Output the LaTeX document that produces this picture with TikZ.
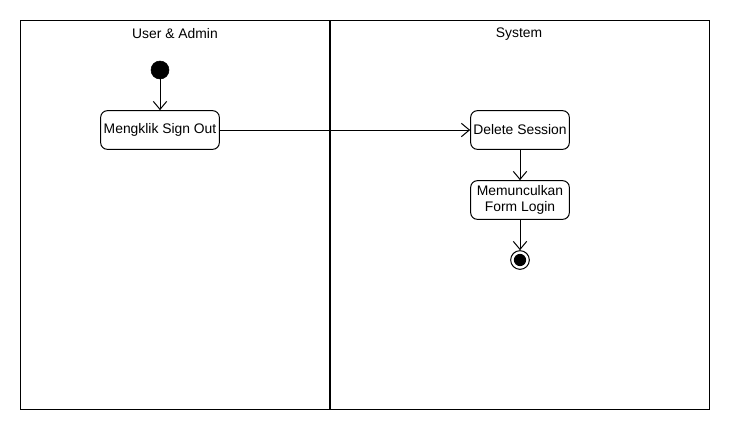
\documentclass[tikz,border=0pt]{standalone}
\usepackage{fontspec}
\setmainfont{Liberation Sans}
\usetikzlibrary{arrows.meta}

\tikzset{
  action/.style={draw,rounded corners=5pt,line width=0.75pt,minimum width=74pt,minimum height=29pt,inner sep=1pt,align=center,font=\fontsize{10.4}{12}\selectfont},
  flow/.style={draw,line width=0.75pt,-{Straight Barb[length=6pt,width=10pt,line width=0.75pt]}},
  lanetitle/.style={font=\fontsize{10.4}{12}\selectfont}
}

\begin{document}
\begin{tikzpicture}[x=0.75pt,y=-0.75pt]

\useasboundingbox (0,0) rectangle (730,430);

% swimlanes
\draw[black,line width=0.65pt] (20,20) rectangle (709,409);
\draw[black,line width=1.5pt] (330,20)--(330,409);
\node[lanetitle] (laneA) at (175,34) {User \& Admin};
\node[lanetitle] (laneB) at (519,34) {System};

% nodes
\node[circle,fill=black,draw,minimum size=13.5pt,inner sep=0pt] (start) at (160,70) {};
\node[action,minimum width=89pt] (signout) at (160,130) {Mengklik Sign Out};
\node[action] (delete) at (520,130) {Delete Session};
\node[action] (form) at (520,200) {Memunculkan\\Form Login};
\node[circle,draw,line width=0.75pt,minimum size=14pt,inner sep=0pt,
  path picture={\fill (path picture bounding box.center) circle (4.6pt);}] (end) at (520,260) {};

% flows
\draw[flow] (start)--(signout);
\draw[flow] (signout)--(delete);
\draw[flow] (delete)--(form);
\draw[flow] (form)--(end);

\end{tikzpicture}
\end{document}
